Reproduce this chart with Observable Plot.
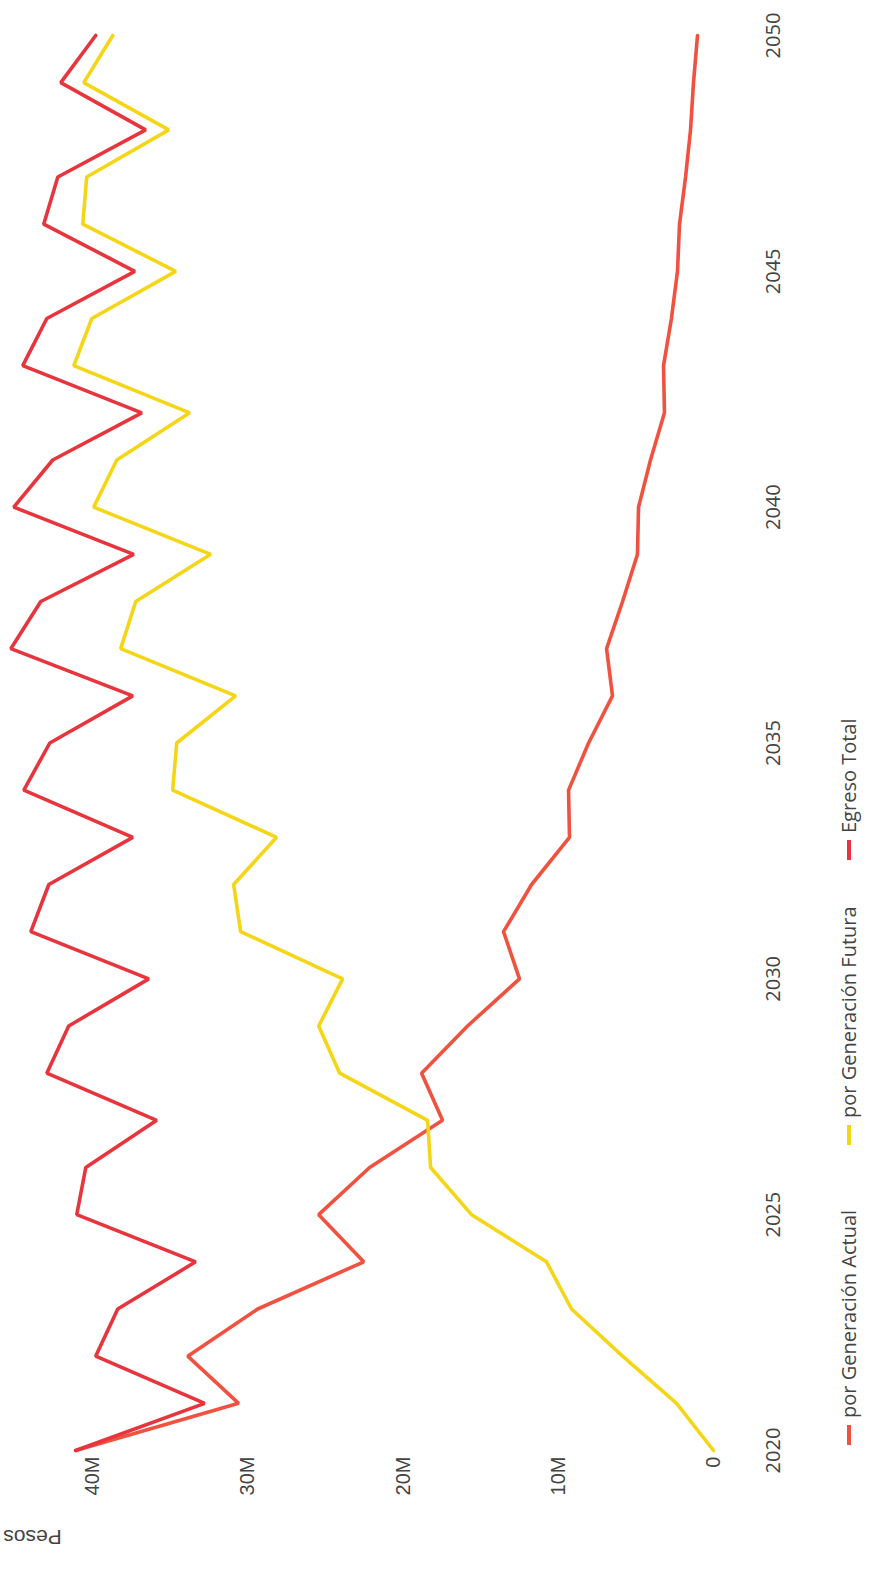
<!DOCTYPE html>
<html>
<head>
<meta charset="utf-8">
<script src="https://cdn.jsdelivr.net/npm/d3@7"></script>
<script src="https://cdn.jsdelivr.net/npm/@observablehq/plot@0.6"></script>
<style>
  html, body { margin: 0; padding: 0; background: #fff; overflow: hidden; width: 882px; height: 1575px; }
  #rot { position: absolute; left: 0; top: 0; width: 1575px; height: 882px;
         transform-origin: 0 0; transform: translate(0px, 1575px) rotate(-90deg); background: #fff; }
  #legend { position: relative; width: 1575px; height: 82px; font-family: "Open Sans", sans-serif; font-size: 20px; color: #444; }
  .item { position: absolute; top: 35px; display: flex; align-items: center; white-space: nowrap; }
  .sw { width: 20px; height: 4px; margin-right: 7px; }
</style>
</head>
<body>
<div id="rot">
  <div id="chart"></div>
  <div id="legend"></div>
</div>
<script>
const years = [2020,2021,2022,2023,2024,2025,2026,2027,2028,2029,2030,2031,2032,2033,2034,2035,2036,2037,2038,2039,2040,2041,2042,2043,2044,2045,2046,2047,2048,2049,2050];
// values in millions of pesos
const actualM = [41.10,30.60,33.88,29.37,22.54,25.44,22.16,17.46,18.81,15.85,12.50,13.53,11.72,9.28,9.34,8.05,6.51,6.89,5.86,4.90,4.83,4.06,3.16,3.22,2.71,2.32,2.19,1.80,1.48,1.29,1.03];
const futuraM = [0.00,2.38,5.86,9.15,10.76,15.59,18.23,18.42,24.09,25.44,23.90,30.47,30.92,28.15,34.85,34.59,30.79,38.20,37.23,32.40,39.94,38.45,33.75,41.22,40.06,34.65,40.64,40.39,35.10,40.58,38.71];
const egresoM = [41.10,32.79,39.81,38.39,33.37,41.03,40.45,35.88,42.96,41.55,36.39,43.99,42.83,37.42,44.44,42.77,37.42,45.28,43.35,37.36,45.09,42.58,36.84,44.51,42.96,37.29,43.16,42.25,36.59,42.06,39.81];
const seriesNames = ["por Generación Actual", "por Generación Futura", "Egreso Total"];
const seriesColors = ["#f0523f", "#f5d617", "#e8343c"];
const xTicks = [2020, 2025, 2030, 2035, 2040, 2045, 2050];
const yTicks = [0, 10e6, 20e6, 30e6, 40e6];
const yTickLabels = ["0", "10M", "20M", "30M", "40M"];
const yTitle = "Pesos";

const seriesValues = [actualM, futuraM, egresoM];
const data = [];
seriesNames.forEach((name, i) => {
  years.forEach((yr, j) => data.push({series: name, year: yr, value: seriesValues[i][j] * 1e6}));
});

const chart = Plot.plot({
  width: 1575,
  height: 800,
  marginLeft: 124,
  marginRight: 36,
  marginTop: 10,
  marginBottom: 87,
  style: {background: "#fff", color: "#444", fontFamily: "'Open Sans', sans-serif"},
  x: {domain: [2020, 2050], label: null},
  y: {domain: [0, 45.3e6], label: null},
  color: {domain: seriesNames, range: seriesColors},
  marks: [
    Plot.axisX({ticks: xTicks, tickSize: 0, tickPadding: 52, fontSize: 20, fontFamily: "'Open Sans', sans-serif", fill: "#444", tickFormat: d => String(d), label: null}),
    Plot.axisY({ticks: yTicks, tickSize: 0, tickPadding: 6, fontSize: 20, fontFamily: "'Liberation Sans', Arial, sans-serif", fill: "#444", tickFormat: d => yTickLabels[yTicks.indexOf(d)], label: null}),
    Plot.text([yTitle], {frameAnchor: "top-left", rotate: -90, dx: -94, dy: 22, text: d => d, fontSize: 21, fontFamily: "'Liberation Sans', Arial, sans-serif", fill: "#444", textAnchor: "middle"}),
    Plot.line(data, {x: "year", y: "value", z: "series", stroke: "series", strokeWidth: 3.6, strokeLinejoin: "miter", curve: "linear"})
  ]
});
document.getElementById("chart").appendChild(chart);

const legend = document.getElementById("legend");
const legendLeft = [130, 430, 715];
seriesNames.forEach((name, i) => {
  const it = document.createElement("div");
  it.className = "item";
  it.style.left = legendLeft[i] + "px";
  const sw = document.createElement("span");
  sw.className = "sw";
  sw.style.background = seriesColors[i];
  const tx = document.createElement("span");
  tx.textContent = name;
  it.appendChild(sw);
  it.appendChild(tx);
  legend.appendChild(it);
});
</script>
</body>
</html>
